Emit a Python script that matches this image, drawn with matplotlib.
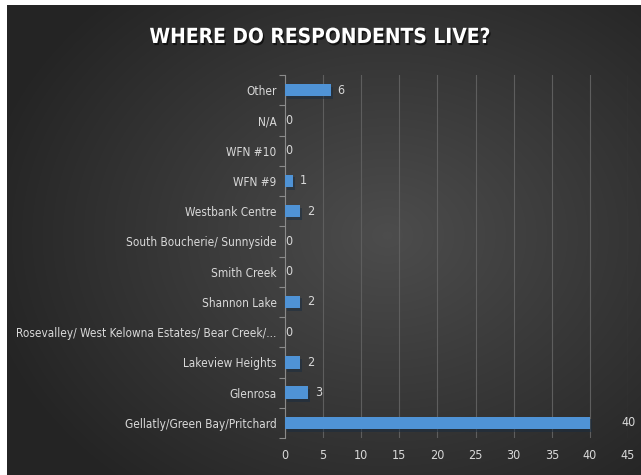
import numpy as np
import matplotlib
matplotlib.use("Agg")
import matplotlib.pyplot as plt
import matplotlib.patheffects as pe

places = ["Gellatly/Green Bay/Pritchard", "Glenrosa", "Lakeview Heights",
          "Rosevalley/ West Kelowna Estates/ Bear Creek/...", "Shannon Lake",
          "Smith Creek", "South Boucherie/ Sunnyside", "Westbank Centre",
          "WFN #9", "WFN #10", "N/A", "Other"]
counts = [40, 3, 2, 0, 2, 0, 0, 2, 1, 0, 0, 6]
xticks = [0, 5, 10, 15, 20, 25, 30, 35, 40, 45]

plt.rcParams["font.family"] = ["DejaVu Sans"]
plt.rcParams["font.stretch"] = "condensed"

W, H = 641, 475
fig = plt.figure(figsize=(W / 100, H / 100), dpi=100)
fig.patch.set_facecolor("white")

# dark panel with a soft radial highlight
bg = fig.add_axes([7 / W, 0, 1 - 7 / W, 1 - 5 / H])
yy, xx = np.mgrid[0:470, 0:634]
d = np.sqrt(((xx - 380) / 420.0) ** 2 + ((yy - 230) / 330.0) ** 2)
shade = np.clip(0.30 - 0.16 * d, 0.145, 0.30)
bg.imshow(np.dstack([shade] * 3), aspect="auto", extent=[0, 1, 0, 1])
bg.set_axis_off()

ax = fig.add_axes([285 / W, 1 - 438 / H, (628 - 285) / W, (438 - 75) / H])
ax.patch.set_alpha(0)
y = np.arange(len(places))
bars = ax.barh(y, counts, height=0.42, color="#4f93d6", zorder=3)
for b in bars:
    b.set_path_effects([pe.SimplePatchShadow(offset=(1.5, -2), alpha=0.5), pe.Normal()])

for yi, v in zip(y, counts):
    off = 0 if v == 0 else (32 if v == max(counts) else 7)
    ax.annotate(str(v), (v, yi), xytext=(off, 0), textcoords="offset pixels",
                ha="left", va="center", color="#d9d9d9", fontsize=9)

ax.set_xlim(0, 45)
ax.set_ylim(-0.5, len(places) - 0.5)
ax.set_xticks(xticks)
ax.set_xticklabels([str(t) for t in xticks], color="#d9d9d9", fontsize=9)
ax.tick_params(axis="x", length=0, pad=8)
ax.grid(axis="x", color="#5e5e5e", lw=0.8, zorder=0)

ax.set_yticks(np.arange(len(places) + 1) - 0.5)
ax.set_yticklabels([])
ax.tick_params(axis="y", which="major", length=4, color="#8a8a8a", direction="out")
ax.set_yticks(y, minor=True)
ax.set_yticklabels(places, minor=True, color="#d9d9d9", fontsize=8.5)
ax.tick_params(axis="y", which="minor", length=0, pad=6)

for s in ["top", "right", "bottom"]:
    ax.spines[s].set_visible(False)
ax.spines["left"].set_color("#8a8a8a")

fig.text(0.5, 1 - 37 / H, "WHERE DO RESPONDENTS LIVE?", ha="center", va="center",
         color="white", fontsize=15, fontweight="bold",
         path_effects=[pe.withSimplePatchShadow(offset=(1, -1.5), shadow_rgbFace="black", alpha=0.6)])

fig.savefig("out.png", dpi=100, facecolor=fig.get_facecolor())
